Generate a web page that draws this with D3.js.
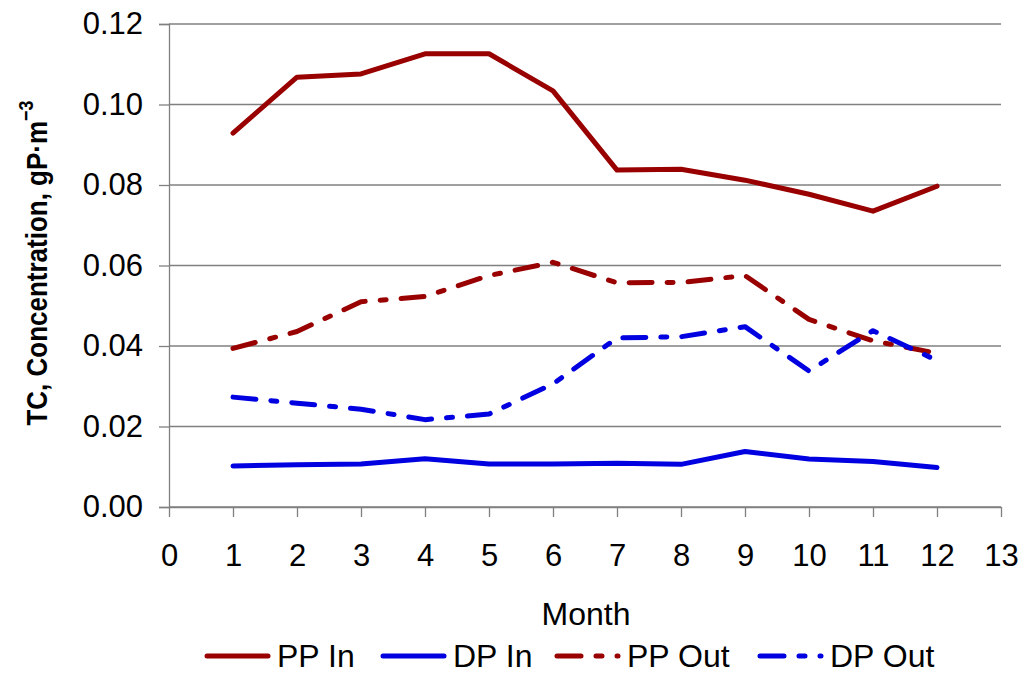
<!DOCTYPE html>
<html><head><meta charset="utf-8">
<script src="https://cdn.jsdelivr.net/npm/d3@7"></script>
<style>body{margin:0;background:#fff}</style>
</head><body>
<svg id="c" width="1024" height="677"></svg>
<script>
const months = [1,2,3,4,5,6,7,8,9,10,11,12];
const ppIn  = [0.0929,0.1068,0.1076,0.1126,0.1126,0.1034,0.0837,0.0839,0.0812,0.0777,0.0735,0.0797];
const dpIn  = [0.0102,0.0105,0.0107,0.0120,0.0107,0.0107,0.0109,0.0106,0.0138,0.0119,0.0113,0.0098];
const ppOut = [0.0394,0.0436,0.0510,0.0523,0.0575,0.0608,0.0557,0.0558,0.0575,0.0466,0.0413,0.0382];
const dpOut = [0.0273,0.0258,0.0243,0.0217,0.0231,0.0306,0.0420,0.0423,0.0448,0.0338,0.0438,0.0364];
const xTicks = d3.range(0,14);
const yTicks = [0,0.02,0.04,0.06,0.08,0.10,0.12];
const seriesNames = ["PP In","DP In","PP Out","DP Out"];

const series = [
  {name:seriesNames[0], vals:ppIn,  color:"#990000", dash:null},
  {name:seriesNames[1], vals:dpIn,  color:"#0000e0", dash:null},
  {name:seriesNames[2], vals:ppOut, color:"#990000", dash:"23,15,6,15"},
  {name:seriesNames[3], vals:dpOut, color:"#0000e0", dash:"23,15,6,15"}
];

const svg = d3.select("#c");
const L=169, R=1001, T=24, B=507;
const x = d3.scaleLinear().domain([0,13]).range([L,R]);
const y = d3.scaleLinear().domain([0,0.12]).range([B,T]);
const font = "Liberation Sans, Arial, sans-serif";

// gridlines
svg.append("g").selectAll("line").data(yTicks).join("line")
  .attr("x1",L).attr("x2",R).attr("y1",d=>y(d)).attr("y2",d=>y(d))
  .attr("stroke","#808080").attr("stroke-width",1.3);

// y axis
const ya = svg.append("g").attr("transform",`translate(${L},0)`)
  .call(d3.axisLeft(y).tickValues(yTicks).tickFormat(d3.format(".2f")).tickSize(10).tickPadding(16));
ya.select(".domain").attr("stroke","#808080").attr("stroke-width",1.3);
ya.selectAll(".tick line").attr("stroke","#808080").attr("stroke-width",1.3);
ya.selectAll("text").attr("font-family",font).attr("font-size",31).attr("fill","#000");

// x axis
const xa = svg.append("g").attr("transform",`translate(0,${B})`)
  .call(d3.axisBottom(x).tickValues(xTicks).tickSize(10).tickPadding(27).tickSizeOuter(0));
xa.select(".domain").attr("stroke","#808080").attr("stroke-width",1.3);
xa.selectAll(".tick line").attr("stroke","#808080").attr("stroke-width",1.3);
xa.selectAll("text").attr("font-family",font).attr("font-size",31).attr("fill","#000");

// lines
const line = d3.line().x((d,i)=>x(months[i])).y(d=>y(d));
series.forEach(s=>{
  svg.append("path").datum(s.vals).attr("d",line)
    .attr("fill","none").attr("stroke",s.color).attr("stroke-width",5)
    .attr("stroke-linejoin","round").attr("stroke-linecap","round")
    .attr("stroke-dasharray",s.dash);
});

// axis titles
svg.append("text").attr("x",586).attr("y",625).attr("text-anchor","middle")
  .attr("font-family",font).attr("font-size",32).text("Month");
const yl = svg.append("text").attr("transform","translate(47,263) rotate(-90) scale(1,1.15)")
  .attr("text-anchor","middle").attr("font-family",font).attr("font-size",26).attr("font-weight","bold");
yl.append("tspan").text("TC, Concentration, gP·m");
yl.append("tspan").attr("dy",-12).attr("font-size",18).text("−3");

// legend
const legX = [205,381,555,758];
series.forEach((s,i)=>{
  svg.append("line").attr("x1",legX[i]+2).attr("x2",legX[i]+63).attr("y1",656).attr("y2",656)
    .attr("stroke",s.color).attr("stroke-width",5).attr("stroke-linecap","round")
    .attr("stroke-dasharray",s.dash?"24,15,6,15":null);
  svg.append("text").attr("x",legX[i]+72).attr("y",667).attr("font-family",font)
    .attr("font-size",32).text(s.name);
});
</script>
</body></html>
